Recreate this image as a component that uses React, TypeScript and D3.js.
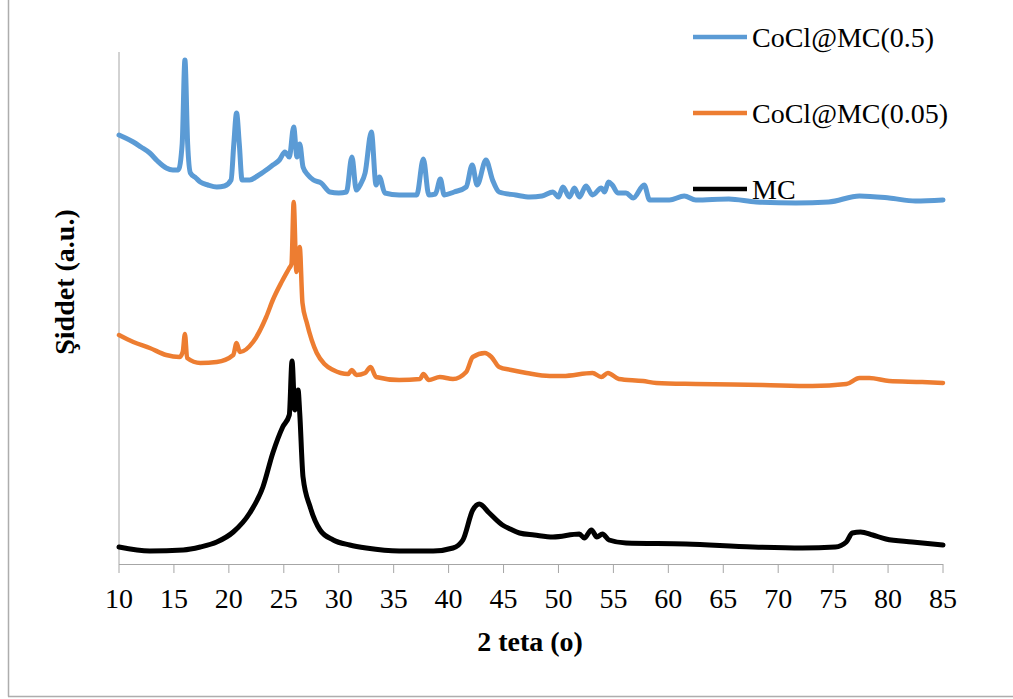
import React from 'react'
import * as d3 from 'd3'

// XRD patterns, 2-theta (deg) and intensity (a.u.)
const blueTheta = [10, 10.6, 11.3, 12.0, 12.8, 13.5, 14.3, 14.9, 15.4, 15.75, 16.0, 16.25, 16.5, 17.0, 17.4, 18.1, 18.9, 19.6, 20.2, 20.45, 20.7, 20.95, 21.2, 21.9, 22.6, 23.4, 24.0, 24.6, 25.1, 25.5, 25.9, 26.2, 26.45, 26.75, 27.2, 27.7, 28.4, 29.2, 30.0, 30.7, 31.2, 31.6, 32.0, 32.4, 32.97, 33.4, 33.7, 34.2, 35.5, 37.1, 37.7, 38.2, 38.8, 39.25, 39.6, 40.5, 41.6, 42.15, 42.6, 43.4, 44.0, 44.6, 46.1, 47.4, 48.5, 49.5, 50.0, 50.4, 51.0, 51.45, 51.9, 52.5, 53.1, 53.9, 54.2, 54.55, 54.9, 55.4, 56.15, 56.8, 57.8, 58.3, 60.1, 61.45, 62.5, 65.5, 68.0, 71.6, 74.6, 77.4, 80.1, 82.5, 85]
const blueI = [429, 426, 422, 417, 411, 403, 396, 394, 394, 420, 504, 420, 391, 386, 382, 379, 377, 378, 384, 420, 451, 420, 384, 384, 388, 394, 399, 404, 412, 407, 437, 407, 420, 397, 389, 384, 381, 372, 371, 372, 407, 374, 380, 391, 432, 379, 387, 371, 369, 369, 405, 369, 370, 385, 369, 372, 377, 399, 379, 404, 384, 372, 369, 367, 368, 372, 367, 377, 367, 376, 367, 378, 369, 376, 372, 382, 379, 371, 371, 366, 379, 364, 364, 368, 364, 365, 362, 361, 362, 368, 366, 363, 364]

const orangeTheta = [10, 11.3, 12.8, 14.3, 15.5, 15.8, 16.0, 16.2, 17.4, 18.9, 20.4, 20.7, 21.0, 22.2, 23.4, 24.0, 24.8, 25.5, 25.7, 25.9, 26.15, 26.45, 26.7, 27.1, 28.0, 28.7, 29.5, 30.85, 31.2, 31.6, 32.4, 32.9, 33.4, 35.5, 37.4, 37.7, 38.2, 39.2, 40.4, 41.6, 42.2, 43.3, 43.9, 44.6, 45.7, 47.1, 49.2, 50.4, 53.1, 53.9, 54.5, 55.5, 57.7, 58.9, 62.5, 68.6, 73.1, 76.2, 77.4, 78.3, 80.1, 83.1, 85]
const orangeI = [229, 222, 216, 209, 207, 212, 230, 206, 201, 202, 209, 221, 212, 222, 247, 264, 282, 296, 300, 362, 292, 317, 261, 241, 211, 200, 194, 190, 194, 189, 191, 197, 187, 184, 185, 190, 184, 187, 185, 192, 207, 211, 207, 197, 194, 191, 188, 188, 191, 187, 191, 185, 183, 181, 180, 179, 178, 180, 186, 186, 183, 182, 181]

const blackTheta = [10, 12.8, 15.85, 17.4, 18.9, 20.4, 21.9, 23.1, 24.0, 24.9, 25.5, 25.75, 26.0, 26.3, 26.45, 26.75, 27.4, 28.3, 29.5, 31.0, 32.5, 35.5, 38.6, 40.4, 41.3, 42.2, 42.8, 43.7, 44.9, 45.6, 46.45, 47.8, 49.5, 51.9, 52.35, 53.0, 53.5, 54.0, 54.6, 56.15, 61.6, 67.7, 72.2, 75.2, 76.2, 76.75, 77.5, 78.6, 79.8, 82.2, 85]
const blackI = [17, 13, 14, 17, 22, 32, 51, 77, 111, 137, 149, 203, 154, 174, 151, 87, 57, 34, 24, 19, 16, 13, 13, 16, 24, 54, 60, 51, 39, 35, 31, 29, 27, 30, 26, 34, 27, 30, 24, 21, 20, 17, 16, 17, 22, 31, 32, 29, 25, 22, 19]

const xTicks = [10, 15, 20, 25, 30, 35, 40, 45, 50, 55, 60, 65, 70, 75, 80, 85]

const series = [
  { name: 'CoCl@MC(0.5)', theta: blueTheta, values: blueI, color: '#5B9BD5', width: 5 },
  { name: 'CoCl@MC(0.05)', theta: orangeTheta, values: orangeI, color: '#ED7D31', width: 4.5 },
  { name: 'MC', theta: blackTheta, values: blackI, color: '#000000', width: 5 },
]

const W = 1013
const H = 699
const left = 119
const right = 943
const top = 52
const bottom = 564
const font = '"Liberation Serif", "Times New Roman", serif'

export default function App() {
  const x = d3.scaleLinear().domain([10, 85]).range([left, right])
  const y = d3.scaleLinear().domain([0, 512]).range([bottom, top])

  const line = d3
    .line<[number, number]>()
    .curve(d3.curveMonotoneX)
    .x(d => x(d[0]))
    .y(d => y(d[1]))

  const drawOrder = [2, 1, 0]

  return (
    <svg
      width={W}
      height={H}
      style={{ position: 'absolute', left: 0, top: 0, background: '#fff' }}
      fontFamily={font}
    >
      {/* chart frame */}
      <line x1={8.5} x2={8.5} y1={0} y2={696.5} stroke="#ADADAD" strokeWidth={1.5} />
      <line x1={8} x2={W} y1={696.5} y2={696.5} stroke="#ADADAD" strokeWidth={1.5} />

      {/* axes */}
      <line x1={left} x2={left} y1={top} y2={bottom} stroke="#A6A6A6" strokeWidth={1} />
      <line x1={left} x2={right} y1={bottom + 0.5} y2={bottom + 0.5} stroke="#A6A6A6" strokeWidth={1} />
      {xTicks.map(t => (
        <g key={t}>
          <line x1={x(t)} x2={x(t)} y1={bottom} y2={bottom + 9} stroke="#A6A6A6" strokeWidth={1} />
          <text x={x(t)} y={608} fontSize={28} textAnchor="middle" fill="#000">
            {t}
          </text>
        </g>
      ))}

      {drawOrder.map(i => {
        const s = series[i]
        const pts = s.theta.map((t, j) => [t, s.values[j]] as [number, number])
        return (
          <path
            key={s.name}
            d={line(pts) || ''}
            fill="none"
            stroke={s.color}
            strokeWidth={s.width}
            strokeLinejoin="round"
            strokeLinecap="round"
          />
        )
      })}

      {/* legend */}
      {series.map((s, i) => {
        const ly = 37 + i * 76
        return (
          <g key={s.name}>
            <line x1={693} x2={747} y1={ly} y2={ly} stroke={s.color} strokeWidth={4.5} />
            <text x={752} y={ly + 10} fontSize={28} fill="#000">
              {s.name}
            </text>
          </g>
        )
      })}

      {/* axis titles */}
      <text x={530} y={651} fontSize={28} fontWeight="bold" textAnchor="middle" fill="#000">
        2 teta (o)
      </text>
      <text
        transform="translate(74,282) rotate(-90)"
        fontSize={28}
        fontWeight="bold"
        textAnchor="middle"
        fill="#000"
      >
        Şiddet (a.u.)
      </text>
    </svg>
  )
}
